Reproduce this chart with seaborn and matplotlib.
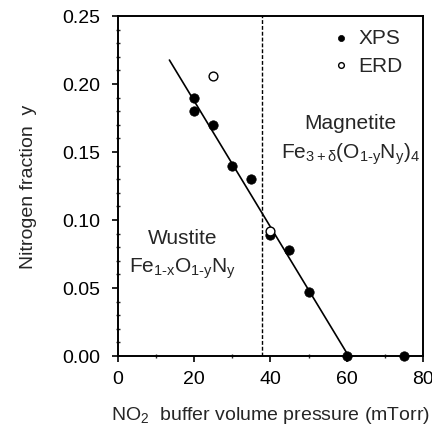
import matplotlib
matplotlib.use("Agg")
import matplotlib.pyplot as plt
import seaborn as sns
import pandas as pd
from matplotlib.ticker import MultipleLocator, FormatStrFormatter

# XPS nitrogen fraction vs NO2 buffer pressure
xps_pressure = [20, 20, 25, 30, 35, 40, 45, 50, 60, 75]
xps_fraction = [0.190, 0.180, 0.170, 0.140, 0.130, 0.089, 0.078, 0.047, 0.0, 0.0]

# ERD nitrogen fraction
erd_pressure = [25, 40]
erd_fraction = [0.206, 0.092]

# Linear fit through the wustite/magnetite data
fit_pressure = [13.5, 60.5]
fit_fraction = [0.2176, 0.0]

# Phase boundary pressure
boundary_pressure = 37.7

sns.set_theme(style="ticks")
plt.rcParams["font.family"] = ["Liberation Sans", "DejaVu Sans"]
plt.rcParams["mathtext.fontset"] = "custom"
plt.rcParams["mathtext.rm"] = "Liberation Sans"
plt.rcParams["mathtext.it"] = "Liberation Sans"
plt.rcParams["mathtext.bf"] = "Liberation Sans:bold"
plt.rcParams["mathtext.default"] = "regular"

fig = plt.figure(figsize=(4.32, 4.31), dpi=100)
ax = fig.add_axes([0.273, 0.1717, 0.706, 0.7889])

xps = pd.DataFrame({"p": xps_pressure, "y": xps_fraction})
erd = pd.DataFrame({"p": erd_pressure, "y": erd_fraction})
fit = pd.DataFrame({"p": fit_pressure, "y": fit_fraction})

sns.lineplot(data=fit, x="p", y="y", ax=ax, color="black", linewidth=1.2)
ax.axvline(boundary_pressure, color="black", linestyle=(0, (2.8, 1.4)), linewidth=1.0)
sns.scatterplot(data=xps, x="p", y="y", ax=ax, color="black", s=46,
                edgecolor="black", linewidth=0.5, zorder=5, clip_on=False,
                label="XPS")
sns.scatterplot(data=erd, x="p", y="y", ax=ax, facecolor="white", s=40,
                edgecolor="black", linewidth=1.0, zorder=6, clip_on=False,
                label="ERD")

ax.set_xlim(0, 80)
ax.set_ylim(0, 0.25)
ax.xaxis.set_major_locator(MultipleLocator(20))
ax.xaxis.set_minor_locator(MultipleLocator(10))
ax.yaxis.set_major_locator(MultipleLocator(0.05))
ax.yaxis.set_minor_locator(MultipleLocator(0.01))
ax.yaxis.set_major_formatter(FormatStrFormatter("%.2f"))

ax.tick_params(which="major", direction="out", length=4, width=1.2,
               labelsize=14, colors="black")
ax.tick_params(axis="x", which="major", pad=6)
ax.tick_params(axis="y", which="major", pad=9)
ax.tick_params(which="minor", direction="inout", length=3.5, width=1.0)
for sp in ax.spines.values():
    sp.set_linewidth(1.4)
    sp.set_color("black")

ax.set_xlabel(r"NO$_2$  buffer volume pressure (mTorr)", fontsize=14, labelpad=12)
ax.set_ylabel("Nitrogen fraction  y", fontsize=14, labelpad=18)

leg = ax.legend(loc="upper right", bbox_to_anchor=(0.975, 1.0), frameon=False,
                fontsize=15, markerscale=0.65, handlelength=1.0,
                handletextpad=0.35, borderaxespad=0.2, labelspacing=0.4)

ax.text(61, 0.172, "Magnetite", fontsize=15, ha="center", va="center")
ax.text(61, 0.149, r"Fe$_{3+\delta}$(O$_{1\text{-}y}$N$_y$)$_4$", fontsize=15,
        ha="center", va="center")
ax.text(17, 0.087, "Wustite", fontsize=15, ha="center", va="center")
ax.text(17, 0.065, r"Fe$_{1\text{-}x}$O$_{1\text{-}y}$N$_y$", fontsize=15,
        ha="center", va="center")

fig.savefig("out.png", dpi=100)
